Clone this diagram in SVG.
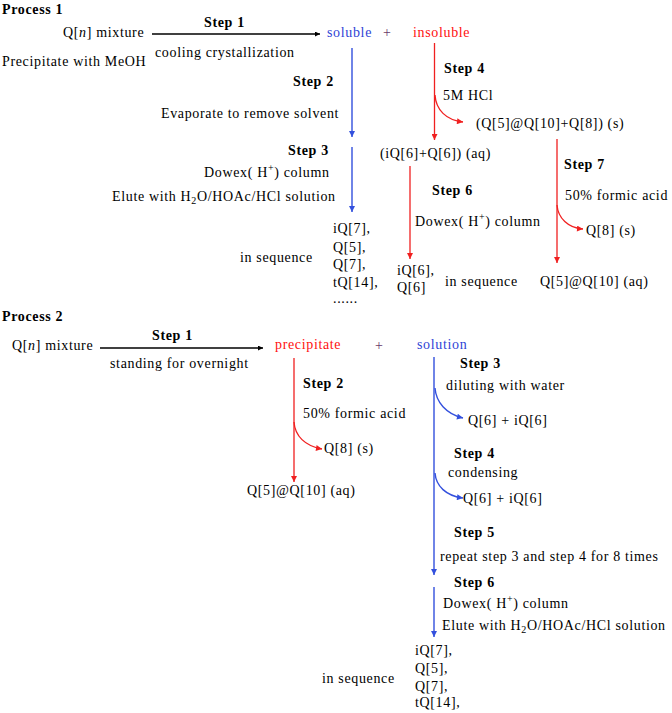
<svg xmlns="http://www.w3.org/2000/svg" width="672" height="713" viewBox="0 0 672 713">
<style>
text{font-family:"Liberation Serif","Times New Roman",serif;font-size:14px;letter-spacing:0.65px;fill:#000}
.b{font-weight:bold}
.blue{fill:#2f44d6}
.red{fill:#ff1010}
.plus{fill:#6a3a6a}
.it{font-style:italic}
.sub{font-size:10px}
.lk{stroke:#000;stroke-width:1.3;fill:none}
.lb{stroke:#3350dd;stroke-width:1.4;fill:none}
.lr{stroke:#f02020;stroke-width:1.3;fill:none}
</style>
<defs>
<marker id="ak" markerUnits="userSpaceOnUse" viewBox="0 0 10 10" refX="10" refY="5" markerWidth="11" markerHeight="5" orient="auto"><path d="M0,0 L10,5 L0,10 z" fill="#000"/></marker>
<marker id="ab" markerUnits="userSpaceOnUse" viewBox="0 0 10 10" refX="10" refY="5" markerWidth="8" markerHeight="6" orient="auto"><path d="M0,0 L10,5 L0,10 z" fill="#3350dd"/></marker>
<marker id="ar" markerUnits="userSpaceOnUse" viewBox="0 0 10 10" refX="10" refY="5" markerWidth="8" markerHeight="6" orient="auto"><path d="M0,0 L10,5 L0,10 z" fill="#f02020"/></marker>
</defs>
<rect width="672" height="713" fill="#fff"/>
<g id="connectors">
<path class="lk" d="M152,34 L320,34" marker-end="url(#ak)"/>
<path class="lb" d="M352,48 L352,137" marker-end="url(#ab)"/>
<path class="lb" d="M352,147 L352,212" marker-end="url(#ab)"/>
<path class="lr" d="M434.5,43 L434.5,140" marker-end="url(#ar)"/>
<path class="lr" d="M435,95 C436,110 446,120 463,122" marker-end="url(#ar)"/>
<path class="lr" d="M410,166 L410,259" marker-end="url(#ar)"/>
<path class="lr" d="M557,139 L557,263" marker-end="url(#ar)"/>
<path class="lr" d="M557,205 C558,218 568,228 583,229" marker-end="url(#ar)"/>
<path class="lk" d="M100,348 L263,348" marker-end="url(#ak)"/>
<path class="lr" d="M294,358 L294,482" marker-end="url(#ar)"/>
<path class="lr" d="M294,422 C295,436 305,446 322,449" marker-end="url(#ar)"/>
<path class="lb" d="M434,357 L434,575" marker-end="url(#ab)"/>
<path class="lb" d="M434,587 L434,637" marker-end="url(#ab)"/>
<path class="lb" d="M435,388 C436,402 446,414 463,418" marker-end="url(#ab)"/>
<path class="lb" d="M435,473 C436,486 446,496 463,498" marker-end="url(#ab)"/>
</g>
<g id="p1-title"><text class="b" x="2" y="14">Process 1</text></g>
<g id="p1-mixture"><text x="63" y="37">Q[<tspan class="it">n</tspan>] mixture</text></g>
<g id="p1-step1"><text class="b" x="204" y="27">Step 1</text><text x="155" y="57">cooling crystallization</text></g>
<g id="p1-meoh"><text x="2" y="66">Precipitate with MeOH</text></g>
<g id="p1-soluble"><text class="blue" x="327" y="37">soluble</text></g>
<g id="p1-plus"><text class="plus" x="383" y="37">+</text></g>
<g id="p1-insoluble"><text class="red" x="413" y="37">insoluble</text></g>
<g id="p1-step2"><text class="b" x="293" y="86">Step 2</text><text x="161" y="118">Evaporate to remove solvent</text></g>
<g id="p1-step3"><text class="b" x="288" y="155">Step 3</text><text x="204" y="177">Dowex( H<tspan class="sub" dy="-6">+</tspan><tspan dy="6">) column</tspan></text><text x="112" y="201">Elute with H<tspan class="sub" dy="3">2</tspan><tspan dy="-3">O/HOAc/HCl solution</tspan></text></g>
<g id="p1-seq1"><text x="240" y="262">in sequence</text><text x="333" y="233">iQ[7],</text><text x="333" y="252">Q[5],</text><text x="333" y="269">Q[7],</text><text x="333" y="287">tQ[14],</text><text x="333" y="303">......</text></g>
<g id="p1-step4"><text class="b" x="444" y="73">Step 4</text><text x="443" y="100">5M HCl</text></g>
<g id="p1-s"><text x="476" y="128">(Q[5]@Q[10]+Q[8]) (s)</text></g>
<g id="p1-aq"><text x="380" y="158">(iQ[6]+Q[6]) (aq)</text></g>
<g id="p1-step6"><text class="b" x="432" y="195">Step 6</text><text x="415" y="226">Dowex( H<tspan class="sub" dy="-6">+</tspan><tspan dy="6">) column</tspan></text></g>
<g id="p1-seq2"><text x="397" y="275">iQ[6],</text><text x="397" y="292">Q[6]</text><text x="445" y="286">in sequence</text></g>
<g id="p1-step7"><text class="b" x="564" y="169">Step 7</text><text x="565" y="200">50% formic acid</text></g>
<g id="p1-q8"><text x="586" y="235">Q[8] (s)</text></g>
<g id="p1-q5q10"><text x="540" y="286">Q[5]@Q[10] (aq)</text></g>
<g id="p2-title"><text class="b" x="2" y="321">Process 2</text></g>
<g id="p2-mixture"><text x="12" y="350">Q[<tspan class="it">n</tspan>] mixture</text></g>
<g id="p2-step1"><text class="b" x="152" y="340">Step 1</text><text x="110" y="368">standing for overnight</text></g>
<g id="p2-precipitate"><text class="red" x="275" y="349">precipitate</text></g>
<g id="p2-plus"><text class="plus" x="375" y="350">+</text></g>
<g id="p2-solution"><text class="blue" x="417" y="349">solution</text></g>
<g id="p2-step2"><text class="b" x="303" y="388">Step 2</text><text x="303" y="418">50% formic acid</text></g>
<g id="p2-q8"><text x="324" y="453">Q[8] (s)</text></g>
<g id="p2-q5q10"><text x="247" y="495">Q[5]@Q[10] (aq)</text></g>
<g id="p2-step3"><text class="b" x="460" y="368">Step 3</text><text x="446" y="390">diluting with water</text></g>
<g id="p2-q6a"><text x="468" y="425">Q[6] + iQ[6]</text></g>
<g id="p2-step4"><text class="b" x="454" y="458">Step 4</text><text x="448" y="477">condensing</text></g>
<g id="p2-q6b"><text x="463" y="503">Q[6] + iQ[6]</text></g>
<g id="p2-step5"><text class="b" x="454" y="537">Step 5</text><text x="440" y="561">repeat step 3 and step 4 for 8 times</text></g>
<g id="p2-step6"><text class="b" x="454" y="587">Step 6</text><text x="443" y="608">Dowex( H<tspan class="sub" dy="-6">+</tspan><tspan dy="6">) column</tspan></text><text x="442" y="630">Elute with H<tspan class="sub" dy="3">2</tspan><tspan dy="-3">O/HOAc/HCl solution</tspan></text></g>
<g id="p2-seq"><text x="322" y="683">in sequence</text><text x="415" y="655">iQ[7],</text><text x="415" y="673">Q[5],</text><text x="415" y="691">Q[7],</text><text x="415" y="707">tQ[14],</text></g>
</svg>
